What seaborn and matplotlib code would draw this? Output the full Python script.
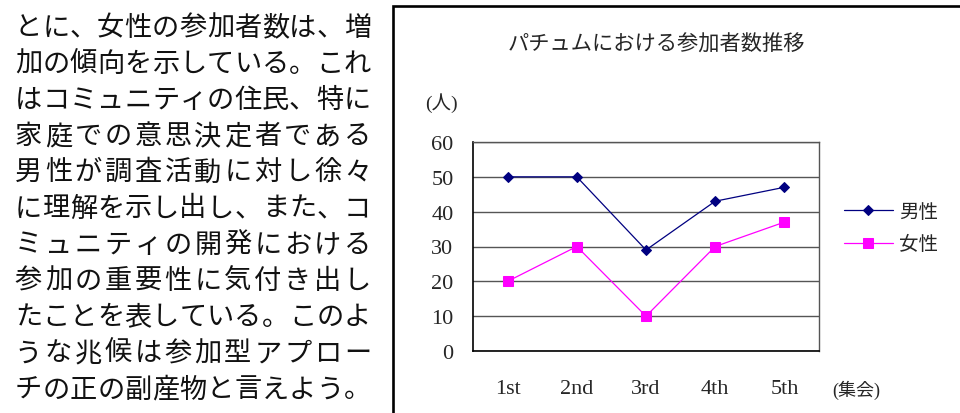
import matplotlib
matplotlib.use("Agg")
import matplotlib.pyplot as plt
import matplotlib.patches as mpatches
import seaborn as sns
import pandas as pd

# ---- data ----
meetings = ["1st", "2nd", "3rd", "4th", "5th"]
male = [50, 50, 29, 43, 47]
female = [20, 30, 10, 30, 37]
series_names = ["男性", "女性"]
yticks = [0, 10, 20, 30, 40, 50, 60]
title = "パチュムにおける参加者数推移"
y_unit = "(人)"
x_unit = "(集会)"
body_lines = [
    "とに、女性の参加者数は、増",
    "加の傾向を示している。これ",
    "はコミュニティの住民、特に",
    "家庭での意思決定者である",
    "男性が調査活動に対し徐々",
    "に理解を示し出し、また、コ",
    "ミュニティの開発における",
    "参加の重要性に気付き出し",
    "たことを表している。このよ",
    "うな兆候は参加型アプロー",
    "チの正の副産物と言えよう。",
]

sns.set_style("white")
plt.rcParams["font.family"] = ["Noto Sans CJK JP", "DejaVu Sans"]

W, H = 960, 414
fig = plt.figure(figsize=(W / 100, H / 100), dpi=100)

def fx(px):
    return px / W

def fy(py):
    return 1 - py / H

# body text on the left, justified (each character on an even grid per line)
x_first, x_last = 28.5, 357.5
for i, line in enumerate(body_lines):
    n = len(line)
    step = (x_last - x_first) / (n - 1)
    for j, ch in enumerate(line):
        fig.text(fx(x_first + j * step), fy(28 + i * 36.2), ch, fontsize=19.6,
                 ha="center", va="center", color="#111111",
                 family=["Noto Sans CJK JP", "DejaVu Sans"])

# chart box border
box = mpatches.Rectangle((fx(393), fy(H + 40)), 0.8, (H + 40 - 6.5) / H,
                         transform=fig.transFigure, fill=False,
                         lw=1.9, edgecolor="black")
fig.patches.append(box)

# axes
ax = fig.add_axes([fx(473), fy(352), fx(819) - fx(473), (352 - 143) / H])

df_m = pd.DataFrame({"回": meetings, "人数": male})
df_f = pd.DataFrame({"回": meetings, "人数": female})

sns.lineplot(data=df_m, x="回", y="人数", ax=ax, color="#000080", lw=0.9,
             marker="D", markersize=5.2, markeredgecolor="#000080",
             markerfacecolor="#000080", label=series_names[0], zorder=4)
sns.lineplot(data=df_f, x="回", y="人数", ax=ax, color="#FF00FF", lw=0.9,
             marker="s", markersize=7.2, markeredgecolor="#FF00FF",
             markerfacecolor="#FF00FF", label=series_names[1], zorder=4)

ax.set_xlim(-0.5, 4.5)
ax.set_ylim(0, 60)
ax.set_yticks(yticks)
ax.set_xlabel("")
ax.set_ylabel("")

serif = ["Liberation Serif", "Noto Sans CJK JP"]
for lab in ax.get_yticklabels() + ax.get_xticklabels():
    lab.set_family(serif)
    lab.set_fontsize(16)

ax.tick_params(axis="y", length=0, pad=14)
ax.tick_params(axis="x", which="major", length=0, pad=20.5)
ax.set_xticks([0.5, 1.5, 2.5, 3.5], minor=True)
ax.tick_params(axis="x", which="minor", direction="in", length=5.8,
               width=1, color="black")

ax.yaxis.grid(True, color="#555555", lw=1)
ax.xaxis.grid(False)
for side in ["top", "right"]:
    ax.spines[side].set_color("#555555")
    ax.spines[side].set_linewidth(1)
for side in ["left", "bottom"]:
    ax.spines[side].set_color("black")
    ax.spines[side].set_linewidth(1.2)

# legend
leg = ax.legend(loc="center left", bbox_to_anchor=(fx(844), fy(228.5)),
                bbox_transform=fig.transFigure, frameon=False,
                fontsize=14, handlelength=2.5, handletextpad=0.35,
                labelspacing=0.6, borderpad=0, borderaxespad=0)

# title and unit labels
fig.text(fx(656), fy(45), title, fontsize=15.3, ha="center", va="center",
         family=["Noto Sans CJK JP", "DejaVu Sans"])
fig.text(fx(425), fy(103), y_unit, fontsize=14, ha="left", va="center",
         family=serif)
fig.text(fx(832), fy(390), x_unit, fontsize=13, ha="left", va="center",
         family=serif)

fig.savefig("out.png", dpi=100)
